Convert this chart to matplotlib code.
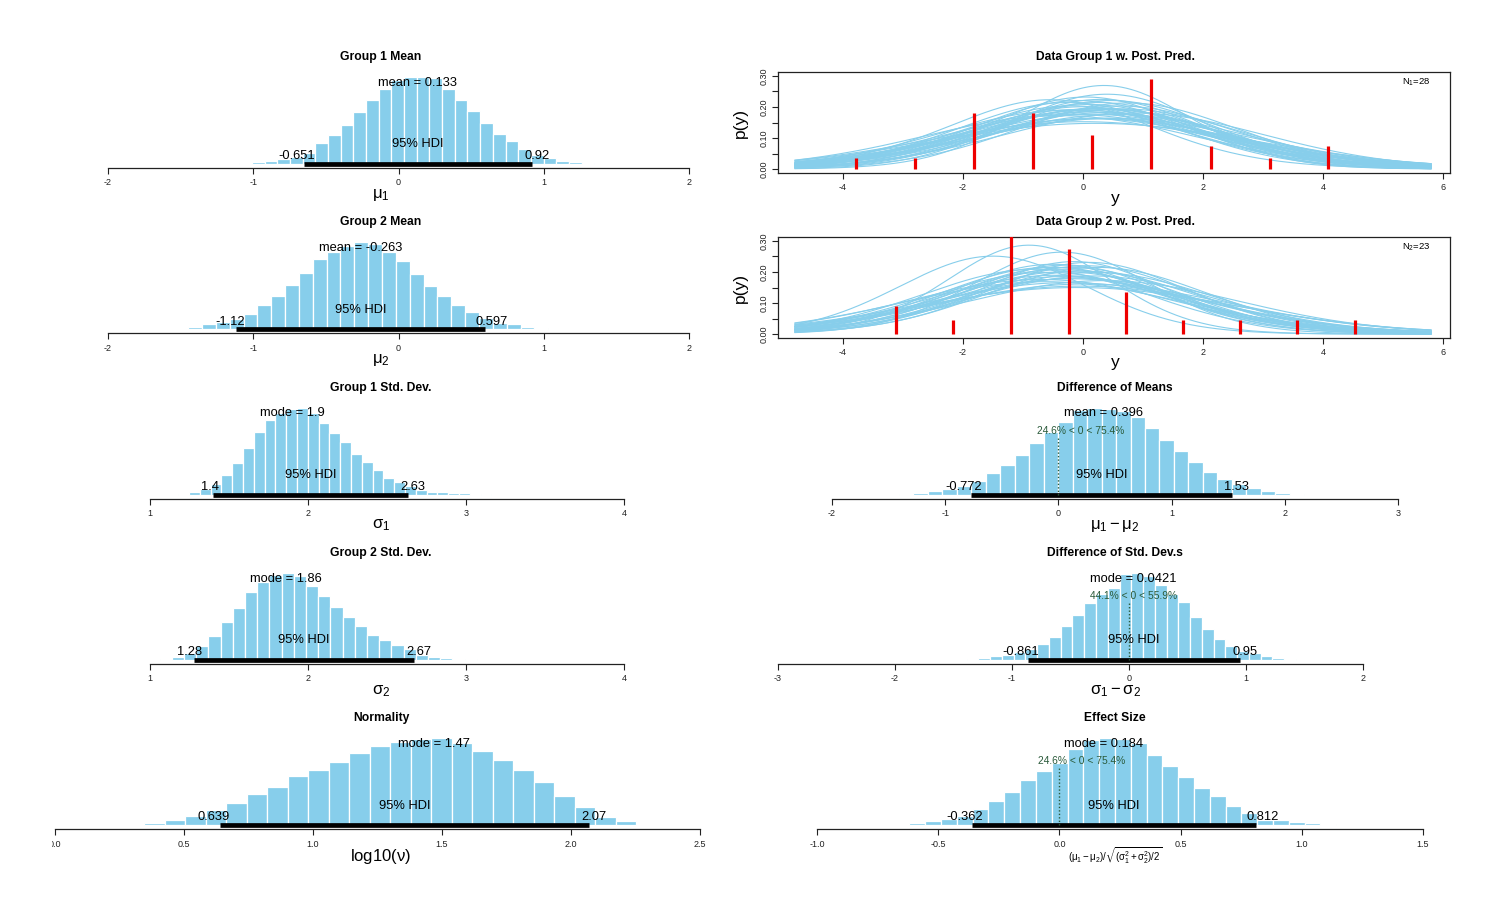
import numpy as np
import matplotlib
matplotlib.use('Agg')
import matplotlib.pyplot as plt
from matplotlib.transforms import ScaledTranslation, Bbox, TransformedBbox
from math import lgamma, pi

plt.rcParams['font.family'] = ['Liberation Sans', 'DejaVu Sans']
plt.rcParams['mathtext.fontset'] = 'custom'
plt.rcParams['mathtext.rm'] = 'Liberation Sans'
plt.rcParams['mathtext.it'] = 'Liberation Sans:italic'
plt.rcParams['mathtext.bf'] = 'Liberation Sans:bold'
plt.rcParams['mathtext.default'] = 'regular'
plt.rcParams['axes.unicode_minus'] = False

# ---------------- data ----------------
# Posterior histograms: relative bar heights, first bin edge, HDI limits
g1_mean_h = [0.008, 0.02, 0.034, 0.053, 0.085, 0.13, 0.237, 0.33, 0.45, 0.60, 0.74, 0.86, 0.96, 1.0,
             1.0, 0.99, 0.86, 0.73, 0.61, 0.47, 0.34, 0.26, 0.17, 0.10, 0.065, 0.034, 0.02, 0.008]
g1_mean_start = -1.096
g1_mean_hdi = [-0.651, 0.92]
g1_mean_ctr = 0.133

g2_mean_h = [0.008, 0.026, 0.057, 0.087, 0.12, 0.18, 0.28, 0.385, 0.51, 0.65, 0.81, 0.89, 0.96, 1.0,
             0.98, 0.89, 0.78, 0.64, 0.50, 0.385, 0.28, 0.196, 0.13, 0.075, 0.057, 0.03, 0.02, 0.008]
g2_mean_start = -1.544
g2_mean_hdi = [-1.12, 0.597]
g2_mean_ctr = -0.263

g1_sd_h = [0.008, 0.027, 0.066, 0.125, 0.23, 0.36, 0.53, 0.72, 0.86, 0.94, 0.98, 1.0, 0.94, 0.82, 0.71,
           0.60, 0.47, 0.38, 0.28, 0.19, 0.15, 0.10, 0.05, 0.035, 0.027, 0.02, 0.014, 0.008, 0.004]
g1_sd_start = 1.179
g1_sd_hdi = [1.4, 2.63]
g1_sd_ctr = 1.9

g2_sd_h = [0.004, 0.01, 0.034, 0.076, 0.16, 0.27, 0.43, 0.60, 0.78, 0.90, 0.98, 1.0, 0.97, 0.85, 0.73,
           0.61, 0.49, 0.39, 0.29, 0.225, 0.17, 0.12, 0.053, 0.038, 0.023, 0.015, 0.008, 0.004, 0.002]
g2_sd_start = 0.983
g2_sd_hdi = [1.28, 2.67]
g2_sd_ctr = 1.86

nu_h = [0.004, 0.023, 0.06, 0.107, 0.17, 0.26, 0.36, 0.44, 0.56, 0.63, 0.73, 0.83, 0.91, 0.96, 0.99,
        1.0, 0.95, 0.855, 0.75, 0.63, 0.50, 0.34, 0.21, 0.096, 0.05, 0.004]
nu_start = 0.266
nu_hdi = [0.639, 2.07]
nu_ctr = 1.47

dmean_h = [0.01, 0.02, 0.04, 0.07, 0.10, 0.16, 0.25, 0.34, 0.46, 0.59, 0.72, 0.83, 0.97, 1.0,
           0.98, 0.96, 0.89, 0.76, 0.63, 0.50, 0.37, 0.26, 0.18, 0.12, 0.075, 0.04, 0.02, 0.01]
dmean_start = -1.409
dmean_hdi = [-0.772, 1.53]
dmean_ctr = 0.396
dmean_pclt = 24.6

dsd_h = [0.008, 0.02, 0.04, 0.057, 0.094, 0.13, 0.18, 0.265, 0.39, 0.52, 0.65, 0.76, 0.83, 0.99,
         1.0, 0.96, 0.86, 0.76, 0.66, 0.49, 0.36, 0.24, 0.16, 0.10, 0.075, 0.04, 0.02, 0.008]
dsd_start = -1.387
dsd_hdi = [-0.861, 0.95]
dsd_ctr = 0.0421
dsd_pclt = 44.1

eff_h = [0.008, 0.02, 0.045, 0.07, 0.11, 0.19, 0.28, 0.385, 0.52, 0.62, 0.72, 0.88, 0.98, 1.0,
         0.99, 0.94, 0.81, 0.68, 0.55, 0.43, 0.33, 0.22, 0.14, 0.064, 0.057, 0.034, 0.02, 0.01]
eff_start = -0.684
eff_hdi = [-0.362, 0.812]
eff_ctr = 0.184
eff_pclt = 24.6

# Observed data spikes (density) for posterior predictive panels
g1_data_x = [-3.79, -2.80, -1.81, -0.83, 0.157, 1.14, 2.13, 3.11, 4.09]
g1_data_d = [0.036, 0.036, 0.181, 0.181, 0.109, 0.29, 0.073, 0.036, 0.073]
g2_data_x = [-3.12, -2.17, -1.20, -0.24, 0.71, 1.67, 2.62, 3.57, 4.54]
g2_data_d = [0.091, 0.045, 0.318, 0.273, 0.136, 0.045, 0.045, 0.045, 0.045]

# Posterior predictive t-curves (mu, sigma, nu)
g1_mu = [0.35, -0.55, 0.10, 0.25, -0.10, 0.45, 0.15, 0.60, -0.30, 0.05, 0.30, 0.20, -0.20, 0.55,
         0.00, 0.40, 0.10, 0.75, -0.40, 0.25, 0.35, -0.05, 0.15, 0.50, 0.05, 0.65, -0.15, 0.30,
         0.20, 0.45, -0.25, 0.10, 0.85, 0.00, 0.35]
g1_sigma = [1.47, 1.75, 1.90, 1.85, 2.05, 1.80, 2.20, 1.95, 2.10, 1.70, 2.00, 2.45, 1.90, 2.25,
            2.60, 1.65, 2.35, 1.85, 2.30, 2.05, 2.15, 1.80, 1.95, 2.40, 2.10, 2.05, 2.25, 1.75,
            2.70, 2.00, 1.85, 2.15, 2.20, 1.95, 2.30]
g1_nu = [30, 12, 25, 40, 18, 60, 9, 35, 50, 22, 15, 70, 8, 28, 45, 80, 6, 20, 33, 100, 11, 65,
         5, 14, 38, 55, 24, 16, 90, 7, 42, 27, 48, 13, 4.5]

g2_mu = [-0.90, -1.50, -0.35, -0.50, -0.20, -0.30, 0.05, -0.60, -0.10, -0.40, 0.20, -0.70, -0.25,
         0.10, -0.45, -0.15, 0.35, -0.55, -0.05, -0.35, 0.00, -0.80, -0.20, 0.25, -0.30, -0.65,
         0.15, -0.10, -0.45, 0.05]
g2_sigma = [1.38, 1.58, 1.50, 1.75, 1.85, 1.95, 1.80, 2.00, 2.15, 1.90, 2.00, 2.25, 2.40, 1.70,
            2.10, 1.65, 2.30, 1.85, 2.55, 2.05, 1.95, 1.90, 2.20, 1.85, 1.75, 2.35, 2.10, 2.65,
            1.80, 2.45]
g2_nu = [25, 40, 30, 18, 50, 12, 35, 60, 9, 22, 45, 28, 70, 15, 80, 7, 33, 100, 20, 5, 26, 38,
         14, 55, 10, 42, 17, 65, 8, 30]

# tick values / labels
mean_ticks = [-2, -1, 0, 1, 2]
sd_ticks = [1, 2, 3, 4]
nu_ticks = [0.0, 0.5, 1.0, 1.5, 2.0, 2.5]
nu_ticklabels = ['0.0', '0.5', '1.0', '1.5', '2.0', '2.5']
dmean_ticks = [-2, -1, 0, 1, 2, 3]
dsd_ticks = [-3, -2, -1, 0, 1, 2]
eff_ticks = [-1.0, -0.5, 0.0, 0.5, 1.0, 1.5]
eff_ticklabels = ['-1.0', '-0.5', '0.0', '0.5', '1.0', '1.5']
ppd_xticks = [-4, -2, 0, 2, 4, 6]
ppd_yticks = [0.0, 0.05, 0.10, 0.15, 0.20, 0.25, 0.30]
ppd_yticklabels = ['0.00', '', '0.10', '', '0.20', '', '0.30']

# ---------------- drawing ----------------
W, H = 1500, 916
fig = plt.figure(figsize=(15, 9.16), dpi=100)
BAR = '#87CEEB'
CV = '#2a5a3a'
TICK_FS = 6.5
TITLE_FS = 8.7

def fx(px):
    return px / W

def fy(py):
    return 1 - py / H

cols = {'L': (52, 710), 'R': (778, 1452)}
frac_texts = []
clip_labels = []

def frac_text(ax, x, y, s, frac, **kw):
    t = ax.text(x, y, s, ha='left', **kw)
    frac_texts.append((ax, t, frac))
    return t

def hist_panel(col, row, title, xlabel, heights, start, hdi, ctr_name, ctr, ticks, ticklabels,
               tick_px, pclt=None, xlabel_size=12, clip_left=False, xlabel_math=None):
    X0, X1 = cols[col]
    axis_y = 168 + row * 165.3
    base_y = axis_y - 4
    top_y = axis_y - 91
    ax = fig.add_axes([fx(X0), fy(axis_y), (X1 - X0) / W, (axis_y - top_y) / H])
    t0, t1 = ticks[0], ticks[-1]
    p0, p1 = tick_px
    s = (p1 - p0) / (t1 - t0)
    ax.set_xlim(t0 + (X0 - p0) / s, t0 + (X1 - p0) / s)
    ax.set_ylim(-(axis_y - base_y) / (base_y - top_y), 1.0)
    w = (hdi[1] - hdi[0]) / 18.0
    edges = start + w * np.arange(len(heights))
    ax.bar(edges, heights, width=w, align='edge', color=BAR, edgecolor='white', linewidth=0.9)
    ax.plot(hdi, [0, 0], color='black', lw=3.4, solid_capstyle='butt', zorder=4)
    for sp in ['top', 'right', 'left']:
        ax.spines[sp].set_visible(False)
    ax.spines['bottom'].set_bounds(t0, t1)
    ax.spines['bottom'].set_linewidth(0.9)
    ax.spines['bottom'].set_color('#222222')
    ax.set_yticks([])
    ax.set_xticks(ticks)
    ax.set_xticklabels(ticklabels if ticklabels else [str(t) for t in ticks])
    ax.tick_params(axis='x', length=4, width=0.8, pad=3.5, labelsize=TICK_FS, colors='#222222')
    # texts
    fs = 9.3
    ax.text(ctr, 0.9, '%s = %s' % (ctr_name, ('%g' % ctr)), ha='center', va='baseline', fontsize=fs, zorder=6)
    ax.text(np.mean(hdi), 0.19, '95% HDI', ha='center', va='baseline', fontsize=fs, zorder=6)
    frac_text(ax, hdi[0], 0.055, '%g' % hdi[0], 0.7, va='baseline', fontsize=fs, zorder=6)
    frac_text(ax, hdi[1], 0.055, '%g' % hdi[1], 0.3, va='baseline', fontsize=fs, zorder=6)
    if pclt is not None:
        ax.plot([0, 0], [0, 0.672], color=CV, lw=1.0, linestyle=(0, (1, 1.5)), zorder=5)
        frac_text(ax, 0, 0.70, '%g%% < 0 < %g%%' % (pclt, round(100 - pclt, 1)), pclt / 100.0,
                  va='baseline', fontsize=7.4, color=CV, zorder=6)
    xc = (X0 + X1) / 2
    fig.text(fx(xc), fy(axis_y - 111), title, ha='center', va='center', fontsize=TITLE_FS,
             fontweight='bold')
    kw = {}
    if xlabel_math:
        kw['math_fontfamily'] = xlabel_math
    fig.text(fx(xc), fy(axis_y + 27), xlabel, ha='center', va='center', fontsize=xlabel_size, **kw)
    if clip_left:
        clip_labels.append(ax)
    return ax

def tpdf(x, mu, sig, nu):
    z = (x - mu) / sig
    c = np.exp(lgamma((nu + 1) / 2.0) - lgamma(nu / 2.0)) / (np.sqrt(nu * pi) * sig)
    return c * (1 + z * z / nu) ** (-(nu + 1) / 2.0)

def ppd_panel(row, title, dx, dd, mus, sigmas, nus, nlabel):
    top = 72 + row * 165
    bot = 173 + row * 165
    X0, X1 = 778, 1450
    ax = fig.add_axes([fx(X0), fy(bot), (X1 - X0) / W, (bot - top) / H])
    s = 60.0
    ax.set_xlim(-4 + (X0 - 843) / s, -4 + (X1 - 843) / s)
    ax.set_ylim(-0.0125, 0.3125)
    xs = np.linspace(-4.8, 5.8, 400)
    for m, sg, n in zip(mus, sigmas, nus):
        ax.plot(xs, tpdf(xs, m, sg, n), color=BAR, lw=0.8, zorder=2)
    ax.vlines(dx, 0, dd, color='#ee0000', lw=2.3, zorder=3)
    for sp in ax.spines.values():
        sp.set_linewidth(0.9)
        sp.set_color('#222222')
    ax.set_xticks(ppd_xticks)
    ax.set_xticklabels([str(t) for t in ppd_xticks])
    ax.set_yticks(ppd_yticks)
    ax.set_yticklabels(ppd_yticklabels, rotation=90, va='center')
    ax.tick_params(axis='both', length=4, width=0.8, pad=3, labelsize=TICK_FS, colors='#222222')
    fig.text(fx(1431), fy(top + 10), nlabel, ha='right', va='center', fontsize=6.8)
    fig.text(fx(1115), fy(top - 15), title, ha='center', va='center', fontsize=TITLE_FS,
             fontweight='bold')
    fig.text(fx(1115), fy(bot + 25), 'y', ha='center', va='center', fontsize=12.5)
    fig.text(fx(740), fy((top + bot) / 2), 'p(y)', ha='center', va='center', rotation=90,
             fontsize=12.5)
    return ax

hist_panel('L', 0, 'Group 1 Mean', r'$\mu_1$', g1_mean_h, g1_mean_start, g1_mean_hdi, 'mean',
           g1_mean_ctr, mean_ticks, None, (108, 689))
hist_panel('L', 1, 'Group 2 Mean', r'$\mu_2$', g2_mean_h, g2_mean_start, g2_mean_hdi, 'mean',
           g2_mean_ctr, mean_ticks, None, (108, 689))
hist_panel('L', 2, 'Group 1 Std. Dev.', r'$\sigma_1$', g1_sd_h, g1_sd_start, g1_sd_hdi, 'mode',
           g1_sd_ctr, sd_ticks, None, (150, 624))
hist_panel('L', 3, 'Group 2 Std. Dev.', r'$\sigma_2$', g2_sd_h, g2_sd_start, g2_sd_hdi, 'mode',
           g2_sd_ctr, sd_ticks, None, (150, 624))
hist_panel('L', 4, 'Normality', r'log10($\nu$)', nu_h, nu_start, nu_hdi, 'mode',
           nu_ctr, nu_ticks, nu_ticklabels, (55, 700), clip_left=True)

ppd_panel(0, 'Data Group 1 w. Post. Pred.', g1_data_x, g1_data_d, g1_mu, g1_sigma, g1_nu, r'N$_1$=28')
ppd_panel(1, 'Data Group 2 w. Post. Pred.', g2_data_x, g2_data_d, g2_mu, g2_sigma, g2_nu, r'N$_2$=23')

hist_panel('R', 2, 'Difference of Means', r'$\mu_1 - \mu_2$', dmean_h, dmean_start, dmean_hdi, 'mean',
           dmean_ctr, dmean_ticks, None, (832, 1398), pclt=dmean_pclt)
hist_panel('R', 3, 'Difference of Std. Dev.s', r'$\sigma_1 - \sigma_2$', dsd_h, dsd_start, dsd_hdi, 'mode',
           dsd_ctr, dsd_ticks, None, (773, 1362), pclt=dsd_pclt)
hist_panel('R', 4, 'Effect Size', r'$(\mu_1-\mu_2)/\sqrt{(\sigma_1^2+\sigma_2^2)/2}$', eff_h, eff_start,
           eff_hdi, 'mode', eff_ctr, eff_ticks, eff_ticklabels, (817, 1423), pclt=eff_pclt,
           xlabel_size=7.0, xlabel_math='stixsans')

fig.canvas.draw()
r = fig.canvas.get_renderer()
for ax, t, frac in frac_texts:
    w = t.get_window_extent(r).width
    t.set_transform(ax.transData + ScaledTranslation(-frac * w / fig.dpi, 0, fig.dpi_scale_trans))
clipbox = TransformedBbox(Bbox.from_extents(52.0 / W, 0, 1, 1), fig.transFigure)
for ax in clip_labels:
    for lbl in ax.get_xticklabels():
        lbl.set_clip_box(clipbox)
        lbl.set_clip_on(True)

fig.savefig('out.png', dpi=100, facecolor='white')
